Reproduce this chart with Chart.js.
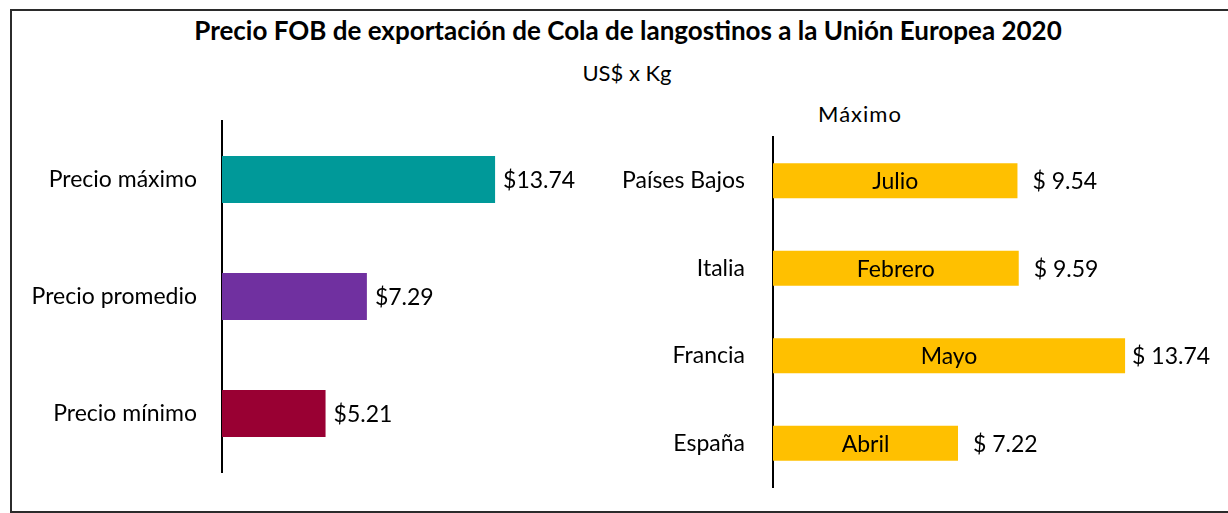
<!DOCTYPE html>
<html>
<head>
<meta charset="utf-8">
<script src="https://cdn.jsdelivr.net/npm/chart.js@4.4.1/dist/chart.umd.min.js"></script>
<style>
  body { margin: 0; background: #fff; width: 1228px; height: 513px; overflow: hidden; position: relative; font-family: Lato, sans-serif; }
  #frame { position: absolute; left: 10px; top: 9px; width: 1260px; height: 500px; border: 2px solid #2b2b2b; box-sizing: content-box; }
  .txt { position: absolute; color: #000; white-space: nowrap; transform: translate(-50%, -50%); }
  #title { left: 628px; top: 30px; font-weight: bold; font-size: 26px; }
  #sub { left: 627px; top: 72px; font-size: 22px; }
  #maxlbl { left: 860px; top: 113px; font-size: 22px; letter-spacing: 1px; }
  canvas { position: absolute; left: 0; top: 0; }
</style>
</head>
<body>
<div id="frame"></div>
<div class="txt" id="title">Precio FOB de exportación de Cola de langostinos a la Unión Europea 2020</div>
<div class="txt" id="sub">US$ x Kg</div>
<div class="txt" id="maxlbl">Máximo</div>
<canvas id="left" width="1228" height="513"></canvas>
<canvas id="right" width="1228" height="513"></canvas>
<script>
// left panel
var priceLabels = ["Precio máximo", "Precio promedio", "Precio mínimo"];
var priceValues = [13.74, 7.29, 5.21];
var priceColors = ["#009999", "#7030A0", "#990033"];

// right panel (maximum by country)
var countries = ["Países Bajos", "Italia", "Francia", "España"];
var countryValues = [9.54, 9.59, 13.74, 7.22];
var countryMonths = ["Julio", "Febrero", "Mayo", "Abril"];

var labelFont = { family: "Lato", size: 23 };

// draws value labels next to the bars and optional text inside them
var barLabels = {
    id: 'barLabels',
    afterDatasetsDraw: function (chart, args, opts) {
        var ctx = chart.ctx;
        var meta = chart.getDatasetMeta(0);
        ctx.save();
        ctx.font = labelFont.size + 'px ' + labelFont.family;
        ctx.fillStyle = '#000';
        ctx.textBaseline = 'middle';
        meta.data.forEach(function (bar, i) {
            var v = chart.data.datasets[0].data[i];
            var txt = opts.spaced ? '$ ' + v.toFixed(2) : '$' + v.toFixed(2);
            var x = bar.x + opts.gap;
            // accounting style: small values get some padding
            if (opts.spaced && v < 10) x += 8;
            ctx.textAlign = 'left';
            ctx.fillText(txt, x, bar.y + 1);
            if (opts.inner) {
                ctx.textAlign = 'center';
                ctx.fillText(opts.inner[i], (bar.base + bar.x) / 2, bar.y + 1);
            }
        });
        ctx.restore();
    }
};

function makeOptions(pad, axisWidth, xMax, gap, labelOpts) {
    return {
        responsive: false,
        animation: false,
        indexAxis: 'y',
        layout: { padding: pad },
        plugins: { legend: { display: false }, tooltip: { enabled: false }, barLabels: labelOpts },
        scales: {
            x: { display: false, min: 0, max: xMax },
            y: {
                grid: { display: false, drawTicks: true, tickLength: gap },
                border: { display: true, color: '#000', width: 2 },
                ticks: { color: '#000', font: labelFont, padding: 0 },
                afterFit: function (scale) { scale.width = axisWidth; }
            }
        }
    };
}

new Chart(document.getElementById('left').getContext('2d'), {
    type: 'bar',
    data: {
        labels: priceLabels,
        datasets: [{
            data: priceValues,
            backgroundColor: priceColors,
            barPercentage: 0.4,
            categoryPercentage: 1
        }]
    },
    options: makeOptions({ left: 0, top: 121, bottom: 41, right: 688 }, 222, 16, 25,
        { spaced: false, gap: 8 }),
    plugins: [barLabels]
});

new Chart(document.getElementById('right').getContext('2d'), {
    type: 'bar',
    data: {
        labels: countries,
        datasets: [{
            data: countryValues,
            backgroundColor: "#FFC000",
            barPercentage: 0.4,
            categoryPercentage: 1
        }]
    },
    options: makeOptions({ left: 600, top: 137, bottom: 26, right: 45 }, 173, 16, 28,
        { spaced: true, gap: 7, inner: countryMonths }),
    plugins: [barLabels]
});
</script>
</body>
</html>
